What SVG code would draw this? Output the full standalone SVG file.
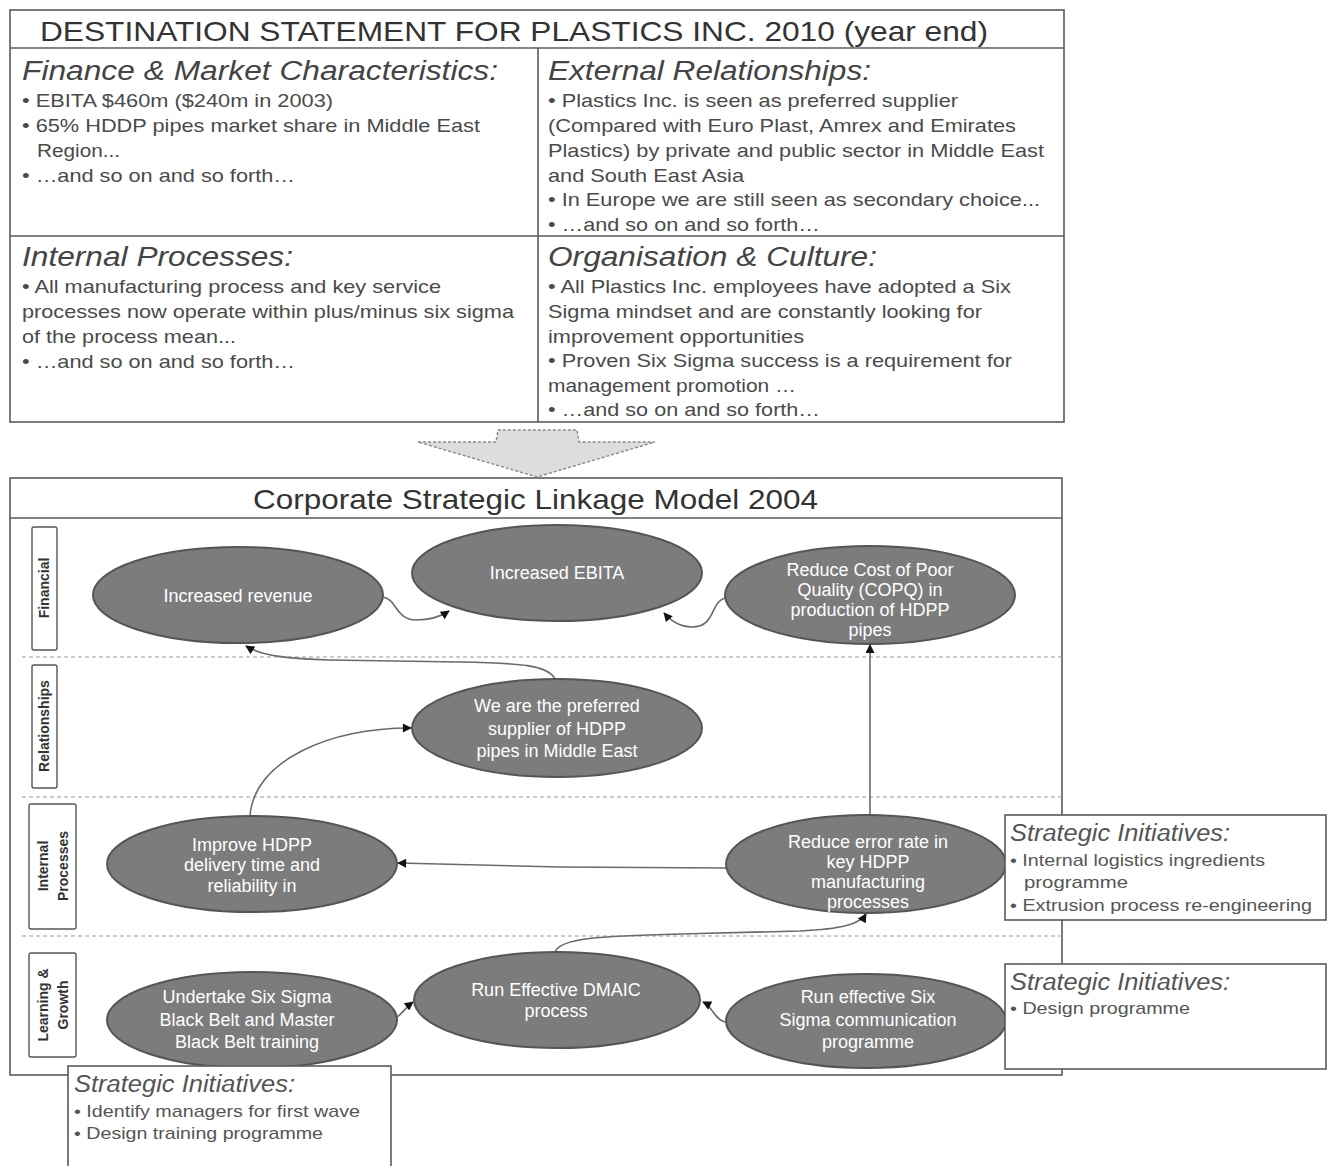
<svg xmlns="http://www.w3.org/2000/svg" width="1330" height="1166" viewBox="0 0 1330 1166">
  <style>
    .frame { fill: #ffffff; stroke: #5a5a5a; stroke-width: 1.6; }
    .rule { stroke: #5a5a5a; stroke-width: 1.6; fill: none; }
    .lane { stroke: #9a9a9a; stroke-width: 1.2; stroke-dasharray: 4 3; fill: none; }
    .title { font-family: "Liberation Sans", Arial, sans-serif; font-size: 28px; fill: #333333; }
    .head { font-family: "Liberation Sans", Arial, sans-serif; font-size: 27px; font-style: italic; fill: #444444; }
    .body { font-family: "Liberation Sans", Arial, sans-serif; font-size: 19px; fill: #4a4a4a; }
    .si-head { font-family: "Liberation Sans", Arial, sans-serif; font-size: 23px; font-style: italic; fill: #555555; }
    .si-body { font-family: "Liberation Sans", Arial, sans-serif; font-size: 17px; fill: #555555; }
    .tag { fill: #ffffff; stroke: #555555; stroke-width: 1.4; }
    .tag-text { font-family: "Liberation Sans", Arial, sans-serif; font-size: 14px; font-weight: bold; fill: #333333; text-anchor: middle; }
    .goal { fill: #7c7c7c; stroke: #555555; stroke-width: 2; }
    .goal-text { font-family: "Liberation Sans", Arial, sans-serif; font-size: 18px; fill: #ffffff; text-anchor: middle; }
    .link { fill: none; stroke: #6a6a6a; stroke-width: 1.6; marker-end: url(#arrow); }
  </style>
  <defs>
    <marker id="arrow" viewBox="0 0 10 10" refX="9" refY="5" markerWidth="10" markerHeight="9" orient="auto" markerUnits="userSpaceOnUse">
      <path d="M0,0 L10,5 L0,10 z" fill="#111111"/>
    </marker>
  </defs>

  <rect x="0" y="0" width="1330" height="1166" fill="#ffffff"/>

  <!-- Destination statement table -->
  <g id="destination-statement">
    <rect class="frame" x="10" y="10" width="1054" height="412"/>
    <line class="rule" x1="10" y1="48" x2="1064" y2="48"/>
    <line class="rule" x1="538" y1="48" x2="538" y2="422"/>
    <line class="rule" x1="10" y1="236" x2="1064" y2="236"/>
    <text class="title" x="40" y="41" textLength="948" lengthAdjust="spacingAndGlyphs">DESTINATION STATEMENT FOR PLASTICS INC. 2010 (year end)</text>
  </g>

  <g id="finance-market">
    <text class="head" x="22" y="80" textLength="476" lengthAdjust="spacingAndGlyphs">Finance &amp; Market Characteristics:</text>
    <text class="body" x="22" y="107" textLength="311" lengthAdjust="spacingAndGlyphs">• EBITA $460m ($240m in 2003)</text>
    <text class="body" x="22" y="132" textLength="458" lengthAdjust="spacingAndGlyphs">• 65% HDDP pipes market share in Middle East</text>
    <text class="body" x="37" y="157" textLength="83" lengthAdjust="spacingAndGlyphs">Region...</text>
    <text class="body" x="22" y="182" textLength="273" lengthAdjust="spacingAndGlyphs">• …and so on and so forth…</text>
  </g>

  <g id="external-relationships">
    <text class="head" x="548" y="80" textLength="323" lengthAdjust="spacingAndGlyphs">External Relationships:</text>
    <text class="body" x="548" y="107" textLength="410" lengthAdjust="spacingAndGlyphs">• Plastics Inc. is seen as preferred supplier</text>
    <text class="body" x="548" y="132" textLength="468" lengthAdjust="spacingAndGlyphs">(Compared with Euro Plast, Amrex and Emirates</text>
    <text class="body" x="548" y="157" textLength="496" lengthAdjust="spacingAndGlyphs">Plastics) by private and public sector in Middle East</text>
    <text class="body" x="548" y="182" textLength="196" lengthAdjust="spacingAndGlyphs">and South East Asia</text>
    <text class="body" x="548" y="206" textLength="492" lengthAdjust="spacingAndGlyphs">• In Europe we are still seen as secondary choice...</text>
    <text class="body" x="548" y="231" textLength="272" lengthAdjust="spacingAndGlyphs">• …and so on and so forth…</text>
  </g>

  <g id="internal-processes">
    <text class="head" x="22" y="266" textLength="271" lengthAdjust="spacingAndGlyphs">Internal Processes:</text>
    <text class="body" x="22" y="293" textLength="419" lengthAdjust="spacingAndGlyphs">• All manufacturing process and key service</text>
    <text class="body" x="22" y="318" textLength="492" lengthAdjust="spacingAndGlyphs">processes now operate within plus/minus six sigma</text>
    <text class="body" x="22" y="343" textLength="214" lengthAdjust="spacingAndGlyphs">of the process mean...</text>
    <text class="body" x="22" y="368" textLength="273" lengthAdjust="spacingAndGlyphs">• …and so on and so forth…</text>
  </g>

  <g id="organisation-culture">
    <text class="head" x="548" y="266" textLength="329" lengthAdjust="spacingAndGlyphs">Organisation &amp; Culture:</text>
    <text class="body" x="548" y="293" textLength="463" lengthAdjust="spacingAndGlyphs">• All Plastics Inc. employees have adopted a Six</text>
    <text class="body" x="548" y="318" textLength="434" lengthAdjust="spacingAndGlyphs">Sigma mindset and are constantly looking for</text>
    <text class="body" x="548" y="343" textLength="256" lengthAdjust="spacingAndGlyphs">improvement opportunities</text>
    <text class="body" x="548" y="367" textLength="464" lengthAdjust="spacingAndGlyphs">• Proven Six Sigma success is a requirement for</text>
    <text class="body" x="548" y="392" textLength="248" lengthAdjust="spacingAndGlyphs">management promotion …</text>
    <text class="body" x="548" y="416" textLength="272" lengthAdjust="spacingAndGlyphs">• …and so on and so forth…</text>
  </g>

  <!-- Broad downward arrow between the two panels -->
  <g id="flow-arrow">
    <path d="M418,442 L496,442 L498,430 L577,430 L579,442 L655,442 L537,477 Z" fill="#dddddd" stroke="#8a8a8a" stroke-width="1.4" stroke-dasharray="3 2"/>
  </g>

  <!-- Strategic linkage model frame -->
  <g id="linkage-model">
    <rect class="frame" x="10" y="478" width="1052" height="597"/>
    <line class="rule" x1="10" y1="518" x2="1062" y2="518"/>
    <text class="title" x="253" y="509" textLength="565" lengthAdjust="spacingAndGlyphs">Corporate Strategic Linkage Model 2004</text>
    <line class="lane" x1="22" y1="657" x2="1062" y2="657"/>
    <line class="lane" x1="22" y1="797" x2="1062" y2="797"/>
    <line class="lane" x1="22" y1="936" x2="1062" y2="936"/>
  </g>

  <!-- Perspective lane tags -->
  <g id="lane-financial">
    <rect class="tag" x="32" y="527" width="25" height="123" rx="2"/>
    <text class="tag-text" transform="translate(49,588) rotate(-90)">Financial</text>
  </g>
  <g id="lane-relationships">
    <rect class="tag" x="32" y="665" width="25" height="123" rx="2"/>
    <text class="tag-text" transform="translate(49,726) rotate(-90)">Relationships</text>
  </g>
  <g id="lane-internal">
    <rect class="tag" x="29" y="804" width="47" height="125" rx="2"/>
    <text class="tag-text" transform="translate(48,866) rotate(-90)">Internal</text>
    <text class="tag-text" transform="translate(68,866) rotate(-90)">Processes</text>
  </g>
  <g id="lane-learning">
    <rect class="tag" x="29" y="953" width="47" height="104" rx="2"/>
    <text class="tag-text" transform="translate(48,1005) rotate(-90)">Learning &amp;</text>
    <text class="tag-text" transform="translate(68,1005) rotate(-90)">Growth</text>
  </g>

  <!-- Cause-and-effect links -->
  <g id="connectors">
    <path class="link" d="M382,597 C397,598 395,620 416,620 C430,620 440,617 449,611"/>
    <path class="link" d="M725,598 C710,602 716,627 692,627 C680,627 671,621 664,613"/>
    <path class="link" d="M555,679 C548,665 520,663 460,662 L330,660 C290,659 262,656 246,646"/>
    <path class="link" d="M250,816 C254,760 330,728 411,728"/>
    <path class="link" d="M727,868 L560,867 L398,863"/>
    <path class="link" d="M870,815 L870,645"/>
    <path class="link" d="M555,952 C560,938 600,936 680,934 L800,931 C842,929 860,924 866,914"/>
    <path class="link" d="M725,1022 C715,1020 713,1007 703,1002"/>
    <path class="link" d="M397,1017 C403,1013 405,1008 413,1002"/>
  </g>

  <!-- Objectives -->
  <g id="increased-revenue">
    <ellipse class="goal" cx="238" cy="595" rx="145" ry="48"/>
    <text class="goal-text" x="238" y="602">Increased revenue</text>
  </g>
  <g id="increased-ebita">
    <ellipse class="goal" cx="557" cy="573" rx="145" ry="48"/>
    <text class="goal-text" x="557" y="579">Increased EBITA</text>
  </g>
  <g id="reduce-copq">
    <ellipse class="goal" cx="870" cy="595" rx="145" ry="49"/>
    <text class="goal-text" x="870" y="576">Reduce Cost of Poor</text>
    <text class="goal-text" x="870" y="596">Quality (COPQ) in</text>
    <text class="goal-text" x="870" y="616">production of HDPP</text>
    <text class="goal-text" x="870" y="636">pipes</text>
  </g>
  <g id="preferred-supplier">
    <ellipse class="goal" cx="557" cy="728" rx="145" ry="49"/>
    <text class="goal-text" x="557" y="712">We are the preferred</text>
    <text class="goal-text" x="557" y="735">supplier of HDPP</text>
    <text class="goal-text" x="557" y="757">pipes in Middle East</text>
  </g>
  <g id="improve-delivery">
    <ellipse class="goal" cx="252" cy="864" rx="145" ry="48"/>
    <text class="goal-text" x="252" y="851">Improve HDPP</text>
    <text class="goal-text" x="252" y="871">delivery time and</text>
    <text class="goal-text" x="252" y="892">reliability in</text>
  </g>
  <g id="reduce-error-rate">
    <ellipse class="goal" cx="866" cy="864" rx="140" ry="49"/>
    <text class="goal-text" x="868" y="848">Reduce error rate in</text>
    <text class="goal-text" x="868" y="868">key HDPP</text>
    <text class="goal-text" x="868" y="888">manufacturing</text>
    <text class="goal-text" x="868" y="908">processes</text>
  </g>
  <g id="six-sigma-training">
    <ellipse class="goal" cx="252" cy="1020" rx="145" ry="48"/>
    <text class="goal-text" x="247" y="1003">Undertake Six Sigma</text>
    <text class="goal-text" x="247" y="1026">Black Belt and Master</text>
    <text class="goal-text" x="247" y="1048">Black Belt training</text>
  </g>
  <g id="dmaic-process">
    <ellipse class="goal" cx="557" cy="1000" rx="143" ry="48"/>
    <text class="goal-text" x="556" y="996">Run Effective DMAIC</text>
    <text class="goal-text" x="556" y="1017">process</text>
  </g>
  <g id="six-sigma-communication">
    <ellipse class="goal" cx="866" cy="1021" rx="140" ry="47"/>
    <text class="goal-text" x="868" y="1003">Run effective Six</text>
    <text class="goal-text" x="868" y="1026">Sigma communication</text>
    <text class="goal-text" x="868" y="1048">programme</text>
  </g>

  <!-- Strategic initiative call-outs -->
  <g id="initiatives-internal">
    <rect class="frame" x="1005" y="815" width="321" height="105"/>
    <text class="si-head" x="1010" y="841" textLength="220" lengthAdjust="spacingAndGlyphs">Strategic Initiatives:</text>
    <text class="si-body" x="1010" y="866" textLength="255" lengthAdjust="spacingAndGlyphs">• Internal logistics ingredients</text>
    <text class="si-body" x="1024" y="888" textLength="104" lengthAdjust="spacingAndGlyphs">programme</text>
    <text class="si-body" x="1010" y="911" textLength="302" lengthAdjust="spacingAndGlyphs">• Extrusion process re-engineering</text>
  </g>
  <g id="initiatives-communication">
    <rect class="frame" x="1005" y="964" width="321" height="105"/>
    <text class="si-head" x="1010" y="990" textLength="220" lengthAdjust="spacingAndGlyphs">Strategic Initiatives:</text>
    <text class="si-body" x="1010" y="1014" textLength="180" lengthAdjust="spacingAndGlyphs">• Design programme</text>
  </g>
  <g id="initiatives-training">
    <rect class="frame" x="68" y="1066" width="323" height="110"/>
    <text class="si-head" x="74" y="1092" textLength="221" lengthAdjust="spacingAndGlyphs">Strategic Initiatives:</text>
    <text class="si-body" x="74" y="1117" textLength="286" lengthAdjust="spacingAndGlyphs">• Identify managers for first wave</text>
    <text class="si-body" x="74" y="1139" textLength="249" lengthAdjust="spacingAndGlyphs">• Design training programme</text>
  </g>
</svg>
